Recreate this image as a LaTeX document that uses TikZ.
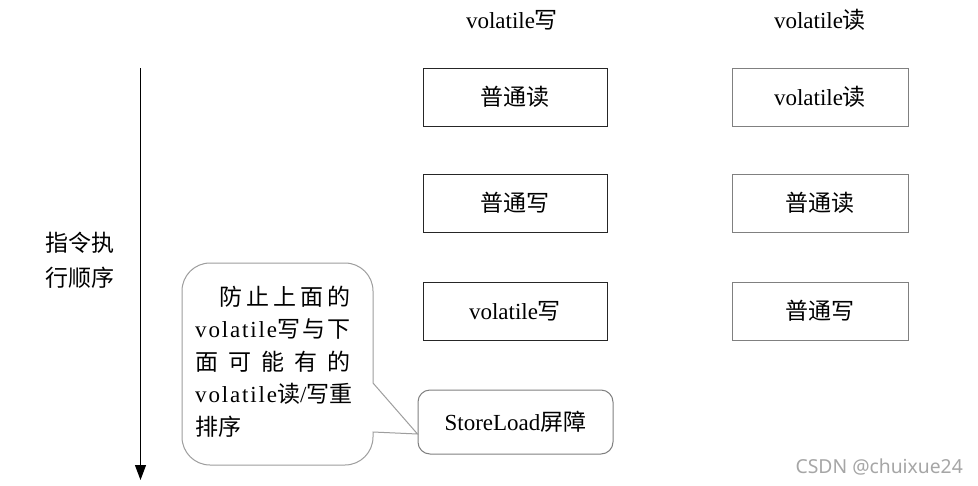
\documentclass[tikz,border=0pt]{standalone}
\usepackage{fontspec}
\setmainfont{Liberation Serif}
\newfontfamily\cjk{Noto Sans CJK SC}
\newfontfamily\wmfont{Noto Sans}
\newfontfamily\spacedserif[LetterSpace=8]{Liberation Serif}
\usetikzlibrary{arrows.meta}
\newcommand\zhs[1]{{\cjk #1}}
\newcommand\spvol{{\spacedserif volatile}}
\definecolor{edgedark}{gray}{0.15}
\definecolor{edgegray}{gray}{0.5}
\definecolor{edgelight}{gray}{0.62}
\tikzset{
  txt/.style={inner sep=0pt, font=\fontsize{23}{27}\selectfont},
  lbox/.style={txt, draw=edgedark, line width=1pt, minimum width=184pt, minimum height=58pt},
  rbox/.style={txt, draw=edgegray, line width=1pt, minimum width=176pt, minimum height=58pt},
  slbox/.style={txt, draw=edgegray, line width=1pt, rounded corners=12pt, minimum width=195pt, minimum height=64pt},
  cline/.style={txt, anchor=base west},
}
\begin{document}
\begin{tikzpicture}[x=1pt,y=1pt]
\useasboundingbox[fill=white] (0,0) rectangle (978,-485);
% headers
\node[txt] (h1) at (512,-20) {volatile\zhs{写}};
\node[txt] (h2) at (820,-20) {volatile\zhs{读}};
% left column
\node[lbox] (l1) at (515,-97) {\zhs{普通读}};
\node[lbox] (l2) at (515,-203) {\zhs{普通写}};
\node[lbox] (l3) at (515,-311) {volatile\zhs{写}};
% right column
\node[rbox] (r1) at (820,-97) {volatile\zhs{读}};
\node[rbox] (r2) at (820,-203) {\zhs{普通读}};
\node[rbox] (r3) at (820,-311) {\zhs{普通写}};
% barrier
\node[slbox] (sl) at (515.5,-422) {StoreLoad\zhs{屏障}};
% order arrow
\coordinate (atop) at (140.5,-68);
\coordinate (abot) at (140.5,-480);
\draw[line width=1pt, -{Triangle[length=15pt,width=11pt]}] (atop) -- (abot);
\node[txt] (lab1) at (80,-243) {\zhs{指令执}};
\node[txt] (lab2) at (80,-278) {\zhs{行顺序}};
% callout
\coordinate (tip) at ([yshift=-12pt]sl.west);
\draw[draw=edgelight, line width=1pt]
  (373,-383) -- (373,-291) arc[start angle=0,end angle=90,radius=28]
  -- (210,-263) arc[start angle=90,end angle=180,radius=28]
  -- (182,-437) arc[start angle=180,end angle=270,radius=28]
  -- (345,-465) arc[start angle=270,end angle=360,radius=28]
  -- (373,-432) -- (tip) -- cycle;
\node[cline] (c1) at (195,-305) {\hbox to 155pt{\hspace*{24pt}\zhs{防}\hfill\zhs{止}\hfill\zhs{上}\hfill\zhs{面}\hfill\zhs{的}}};
\node[cline] (c2) at (195,-337.5) {\hbox to 155pt{\spvol\zhs{写}\hfill\zhs{与}\hfill\zhs{下}}};
\node[cline] (c3) at (195,-370) {\hbox to 155pt{\zhs{面}\hfill\zhs{可}\hfill\zhs{能}\hfill\zhs{有}\hfill\zhs{的}}};
\node[cline] (c4) at (195,-402.5) {\hbox to 155pt{\spvol\zhs{读}/\zhs{写}\hfill\zhs{重}}};
\node[cline] (c5) at (195,-435) {\zhs{排序}};
% watermark
\node[inner sep=0pt, anchor=east, text=gray!70, font=\wmfont\fontsize{19.3}{22}\selectfont] (wm) at (963,-467) {CSDN @chuixue24};
\end{tikzpicture}
\end{document}
